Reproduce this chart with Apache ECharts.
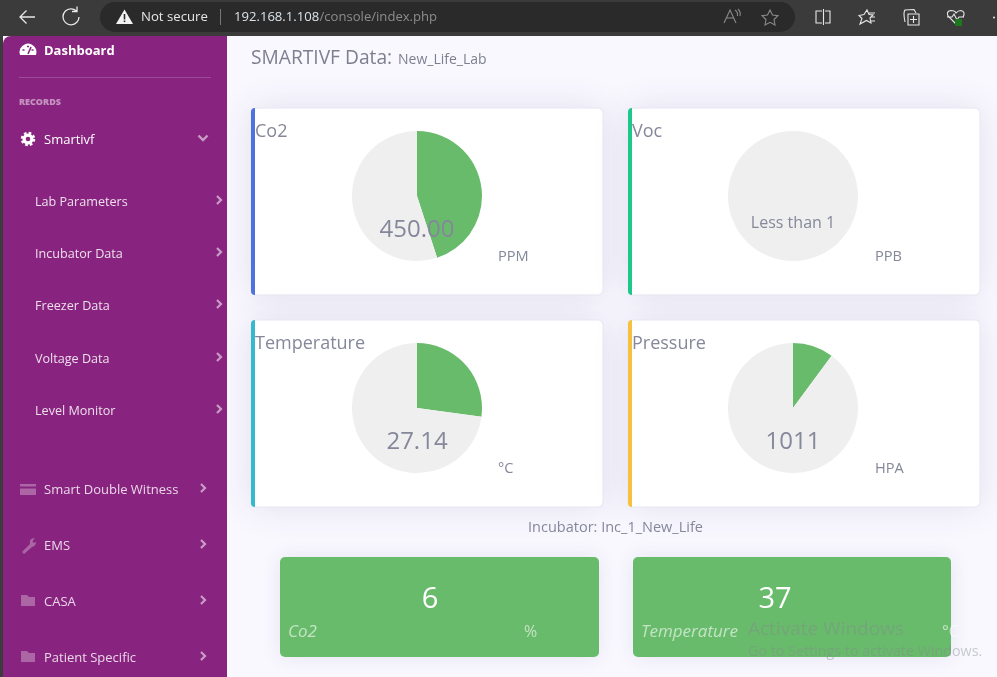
<!DOCTYPE html>
<html>
<head>
<meta charset="utf-8">
<title>SMARTIVF Data</title>
<style>
  html, body { margin: 0; padding: 0; background: #f9f8ff; overflow: hidden; }
  #main { width: 997px; height: 677px; }
</style>
<script src="https://cdn.jsdelivr.net/npm/echarts@6/dist/echarts.min.js"></script>
</head>
<body>
<div id="main"></div>
<script>
// gauge cards
const gaugeNames = ['Co2', 'Voc', 'Temperature', 'Pressure']
const gaugeValues = [450, 0, 27.14, 1011]
const gaugeMax = [1000, 1000, 100, 10000]
const gaugeLabels = ['450.00', 'Less than 1', '27.14', '1011']
const gaugeUnits = ['PPM', 'PPB', '°C', 'HPA']
// incubator tiles
const tileNames = ['Co2', 'Temperature']
const tileValues = ['6', '37']
const tileUnits = ['%', '°C']
// sidebar
const subItems = ['Lab Parameters', 'Incubator Data', 'Freezer Data', 'Voltage Data', 'Level Monitor']
const mainItems = ['Smart Double Witness', 'EMS', 'CASA', 'Patient Specific']

const FONT = '"Open Sans", "Noto Sans", sans-serif'
const GREEN = '#69bb6c'
const GREY = '#efefef'
const TEXT = '#85879a'
const PURPLE = '#88247f'
const cardBox = [[251, 108], [628, 108], [251, 320], [628, 320]]
const accents = ['#4e73df', '#1cc88a', '#36b9cc', '#f6c23e']
const pieCenters = [[417, 196], [793, 196], [417, 408], [793, 408]]
const valueY = [230.5, 223, 442.5, 442.5]
const valueSize = [24, 16, 24, 24]

const text = (str, x, y, size, fill, extra = {}) => ({
  type: 'text',
  z: 20,
  silent: true,
  style: {
    x,
    y,
    text: str,
    fill,
    font: `${extra.style || 'normal'} ${extra.weight || 400} ${size}px ${FONT}`,
    textAlign: extra.align || 'left',
    textVerticalAlign: 'middle'
  }
})
const rect = (x, y, width, height, fill, r = 0, z = 1, extra = {}) => ({
  type: 'rect',
  z,
  silent: true,
  shape: { x, y, width, height, r },
  style: { fill, ...extra }
})
// graphic has no plain path type, so every icon gets its own registered shape
let iconCount = 0
const icon = (pathData, style, z = 15) => {
  const type = `icon${iconCount++}`
  echarts.graphic.registerShape(type, echarts.graphic.extendPath(pathData, {}))
  return { type, z, silent: true, style: { fill: 'none', ...style } }
}
const line = (stroke, lineWidth = 1.3) => ({ stroke, lineWidth })

const elements = []

// browser bar
elements.push(rect(0, 0, 997, 36, '#3b3b3b', 0, 1))
elements.push(rect(100, 2, 695, 30, '#2a2a2a', 15, 2))
elements.push(icon('M20 17H35M26.5 10.5L20 17L26.5 23.5', line('#e8e8e8')))
elements.push(icon('M76.5 11A8 8 0 1 0 79 17M77 6.5V11.5H72', line('#e8e8e8')))
elements.push(icon('M124.5 9.5L133 24H116Z', { fill: '#f4f4f4' }))
elements.push(rect(123.7, 14, 1.6, 5.5, '#2a2a2a', 0, 16))
elements.push(rect(123.7, 20.5, 1.6, 1.6, '#2a2a2a', 0, 16))
elements.push(text('Not secure', 141, 17, 13.2, '#e6e6e6'))
elements.push(rect(220, 9, 1, 16, '#777777', 0, 3))
elements.push(text('192.168.1.108', 234, 17, 13.1, '#dbe3ea'))
elements.push(text('/console/index.php', 319.5, 17, 13.1, '#8d8d8d'))
elements.push(icon('M724 23L730 10L736 23M726.5 18H733.5M735 10Q738 12 737.5 16M738 9Q741 12 740 16', line('#8a8a8a', 1.1)))
elements.push(icon('M770 10L772.5 15L778 15.7L774 19.5L775 25L770 22.3L765 25L766 19.5L762 15.7L767.5 15Z', line('#8a8a8a', 1.1)))
elements.push(icon('M822 11H816V23H822M825 11H830V23H825M823.5 9V25', line('#e8e8e8', 1.1)))
elements.push(icon('M867 10L869 14.5L873 15L870 18L871 23L866.5 20.5L860 24L862 18.5L859 15.5L864 14.5ZM869 13H875M871 17H875M871 21H875', line('#e8e8e8', 1.1)))
elements.push(icon('M905 22Q903 12 905 10L914 9.5L916 13M908 14H919V25H908ZM913.5 16V23M910 19.5H917', line('#e8e8e8', 1.1)))
elements.push(icon('M956 24L948 16Q946 11 951 10.5Q955 10.5 956 13Q958 10.5 961 10.5Q966 12 963 17M947 17H952L954 14L957 20L959 17H964', line('#e8e8e8', 1.1)))
elements.push(rect(955, 19, 7, 7, '#1c7a1c', 1, 16))
elements.push(rect(993, 16.5, 2, 2, '#e8e8e8', 1, 16))

// sidebar
elements.push(rect(0, 36, 3, 641, '#3b3b3b', 0, 1))
elements.push(rect(3, 36, 224, 641, PURPLE, [8, 0, 0, 0], 2))
elements.push(icon('M20 55A8.5 8.5 0 1 1 36 55Z', { fill: '#ffffff' }))
elements.push(icon('M28 54L31 47', line(PURPLE, 1.6), 16))
elements.push(icon('M22.5 50H24.5M27 46.5H29M31.5 50H33.5', line(PURPLE, 1.4), 16))
elements.push(text('Dashboard', 44, 51, 13, '#ffffff', { weight: 700 }))
elements.push(rect(19, 77, 192, 1, 'rgba(255,255,255,0.18)', 0, 3))
elements.push(text('RECORDS', 19, 102, 9, 'rgba(255,255,255,0.5)', { weight: 800 }))
// gear is a ring with a dashed outer stroke
elements.push({
  type: 'ring',
  z: 15,
  silent: true,
  shape: { cx: 28, cy: 139, r: 5.5, r0: 2.3 },
  style: { fill: '#ffffff' }
})
elements.push({
  type: 'circle',
  z: 15,
  silent: true,
  shape: { cx: 28, cy: 139, r: 6 },
  style: { fill: 'none', stroke: '#ffffff', lineWidth: 2.5, lineDash: [2.6, 2.1] }
})
elements.push(text('Smartivf', 44, 140, 13, '#ffffff'))
elements.push(icon('M198.5 135.5L203 140L207.5 135.5', line('rgba(255,255,255,0.55)', 2.4)))
const subY = [201, 253, 305, 358, 410]
subItems.forEach((name, i) => {
  elements.push(text(name, 35, subY[i] + 1, 12.6, 'rgba(255,255,255,0.85)'))
  elements.push(icon(`M217 ${subY[i] - 5}L221 ${subY[i] - 1}L217 ${subY[i] + 3}`, line('rgba(255,255,255,0.55)', 2.2)))
})
const mainY = [489, 545, 601, 657]
mainItems.forEach((name, i) => {
  const y = mainY[i]
  elements.push(text(name, 44, y + 1, 13, 'rgba(255,255,255,0.82)'))
  elements.push(icon(`M201 ${y - 5}L205 ${y - 1}L201 ${y + 3}`, line('rgba(255,255,255,0.55)', 2.2)))
})
const SIDE_ICON = 'rgba(255,255,255,0.3)'
elements.push(icon('M20 484H36V495H20Z', { fill: SIDE_ICON }))
elements.push(rect(20, 486.5, 16, 2, PURPLE, 0, 16))
elements.push(icon('M22 552L30 544Q29 540 32 538.5L35 538L32.5 541L33.5 543L36 542Q36 546 32 547L24 554Z', { fill: SIDE_ICON }))
mainY.slice(2).forEach((y) => {
  elements.push(icon(`M21 ${y - 6}H27L29 ${y - 4}H35V${y + 5}H21Z`, { fill: SIDE_ICON }))
})

// page heading
elements.push(text('SMARTIVF Data:', 251, 59, 19.2, '#7d7f8e'))
elements.push(text('New_Life_Lab', 398, 60, 14, '#7d7f8e'))

// cards
gaugeNames.forEach((name, i) => {
  const [x, y] = cardBox[i]
  const [cx] = pieCenters[i]
  elements.push(rect(x, y, 352, 187, '#ffffff', 5, 1, {
    stroke: '#e6e7f2',
    lineWidth: 1,
    shadowBlur: 36,
    shadowColor: 'rgba(58,59,110,0.12)'
  }))
  elements.push(rect(x, y, 4, 187, accents[i], [4, 0, 0, 4], 2))
  elements.push(text(name, x + 4, y + 24, 18, TEXT))
  elements.push(text(gaugeLabels[i], cx, valueY[i], valueSize[i], TEXT, { align: 'center' }))
  elements.push(text(gaugeUnits[i], x + 247, y + 149, 14.6, TEXT))
})

// incubator tiles
elements.push(text('Incubator: Inc_1_New_Life', 615.5, 528, 14.5, '#85879a', { align: 'center' }))
const tileX = [280, 633]
const tileW = [319, 318]
const tileValueX = [430, 775]
const tileUnitX = [524, 942]
tileNames.forEach((name, i) => {
  elements.push(rect(tileX[i], 557, tileW[i], 100, GREEN, 5, 1, {
    shadowBlur: 20,
    shadowColor: 'rgba(58,59,110,0.1)'
  }))
  elements.push(text(tileValues[i], tileValueX[i], 599.5, 29, '#ffffff', { align: 'center' }))
  elements.push(text(name, tileX[i] + 8, 632, 17, 'rgba(255,255,255,0.6)', { style: 'italic' }))
  elements.push(text(tileUnits[i], tileUnitX[i], 632, 16, 'rgba(255,255,255,0.6)'))
})

// windows watermark
elements.push(text('Activate Windows', 748, 630, 19, 'rgba(130,135,140,0.42)'))
elements.push(text('Go to Settings to activate Windows.', 748, 651.5, 14.3, 'rgba(130,135,140,0.42)'))

const series = gaugeNames.map((name, i) => ({
  name,
  type: 'pie',
  z: 5,
  silent: true,
  animation: false,
  radius: 65,
  center: pieCenters[i],
  startAngle: 90,
  clockwise: true,
  label: { show: false },
  labelLine: { show: false },
  emphasis: { disabled: true },
  data: [
    { value: gaugeValues[i], itemStyle: { color: GREEN } },
    { value: gaugeMax[i] - gaugeValues[i], itemStyle: { color: GREY } }
  ]
}))

const chartInstance = echarts.init(document.getElementById('main'), null, { renderer: 'canvas' })
chartInstance.setOption({
  backgroundColor: '#f9f8ff',
  animation: false,
  tooltip: { show: false },
  graphic: { elements },
  series
})
</script>
</body>
</html>
